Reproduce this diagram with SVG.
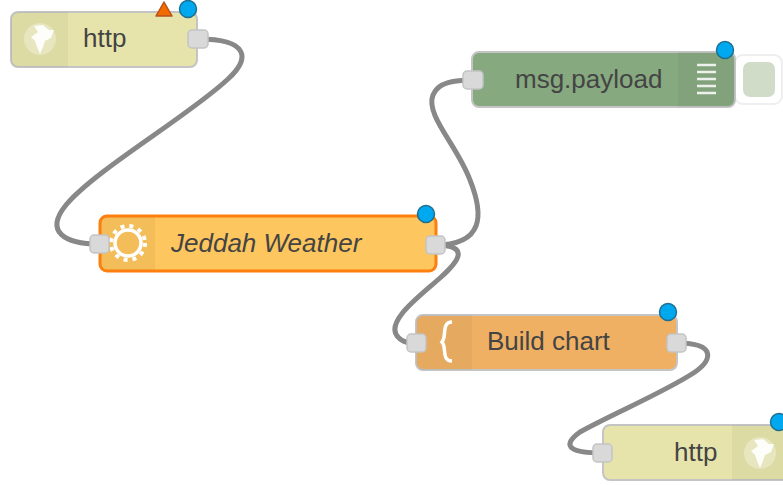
<svg xmlns="http://www.w3.org/2000/svg" width="783" height="485" viewBox="0 0 783 485">
<defs>
<style>
.wire{fill:none;stroke:#888;stroke-width:5}
.body{stroke:#c4c4c4;stroke-width:2}
.port{fill:#d9d9d9;stroke:#c4c4c4;stroke-width:1.5}
.badge{fill:#00a8f0;stroke:#1f6f8f;stroke-width:1.5}
.icon{fill:#000;fill-opacity:.04}
.lbl{font-family:"Liberation Sans",Arial,sans-serif;font-size:26px;fill:#444}
</style>
<g id="globe"><circle cx="0" cy="0" r="16" fill="#fff" fill-opacity=".3"/><path d="M-9 -2 L-2 -7 L-6 -13 L3 -14 L9 -9 L14 -9 L11 -1 L5 2 L3 8 L0 15 L-3 8 L-5 2 Z M6 -5 L9 -5 L8 -2 Z" fill="#fff" fill-opacity=".9"/></g>
</defs>
<g id="connectors">
<path class="wire" d="M198 39 C250 39 250 59 228 79 C190 115 95 170 66 205 C44 232 65 244 99 244"/>
<path class="wire" d="M435 245 C484 245 484 215 470 180 C457 145 425 115 433 95 C438 82 455 80 473 80"/>
<path class="wire" d="M435 245 C472 245 458 262 440 278 C420 296 384 322 398 337 C403 343 410 343 416 343"/>
<path class="wire" d="M677 343 C717 343 712 360 695 372 C665 392 610 415 580 432 C558 448 575 453 602 453"/>
</g>
<g id="node-http-in">
<rect class="body" x="11" y="12" width="186" height="55" rx="7" fill="#e6e4ab"/>
<path class="icon" d="M18 12H68V67H18a7 7 0 0 1-7-7V19a7 7 0 0 1 7-7Z"/>
<use href="#globe" x="40" y="39"/>
<text class="lbl" x="83" y="47">http</text>
<rect class="port" x="188" y="30" width="20" height="18" rx="4"/>
<path d="M156 16 L164 2 L172 16 Z" fill="#f26a00" stroke="#b5531a" stroke-width="1.5" stroke-linejoin="round"/>
<circle class="badge" cx="188" cy="9" r="8.5"/>
</g>
<g id="node-debug">
<rect x="735" y="55" width="47" height="49" rx="8" fill="#fff" stroke="#eee" stroke-width="2"/>
<rect x="743" y="62" width="32" height="35" rx="7" fill="#d0dcc8"/>
<rect class="body" x="472" y="52" width="263" height="55" rx="7" fill="#87a980"/>
<path class="icon" d="M678 52H728a7 7 0 0 1 7 7V100a7 7 0 0 1-7 7H678Z"/>
<path d="M697 65H716M697 72H716M697 79H716M697 86H716M697 93H716" stroke="#fff" stroke-width="2.5" stroke-opacity=".85"/>
<text class="lbl" x="515" y="88">msg.payload</text>
<rect class="port" x="463" y="71" width="20" height="18" rx="4"/>
<circle class="badge" cx="725" cy="50" r="8.5"/>
</g>
<g id="node-jeddah">
<rect x="100" y="216" width="336" height="55" rx="7" fill="#fdc65e" stroke="#ff7f0e" stroke-width="3"/>
<path class="icon" d="M107 217H155V270H107a6 6 0 0 1-6-6V223a6 6 0 0 1 6-6Z"/>
<circle cx="128" cy="243" r="13" fill="none" stroke="#fff" stroke-width="3.5"/>
<circle cx="128" cy="243" r="17" fill="none" stroke="#fff" stroke-width="4" stroke-dasharray="4 5"/>
<text class="lbl" x="171" y="252" font-style="italic">Jeddah Weather</text>
<rect class="port" x="90" y="235" width="19" height="18" rx="4"/>
<rect class="port" x="426" y="236" width="19" height="18" rx="4"/>
<circle class="badge" cx="426" cy="214" r="8.5"/>
</g>
<g id="node-build-chart">
<rect class="body" x="416" y="315" width="261" height="55" rx="7" fill="#efb063"/>
<path class="icon" d="M423 315H472V370H423a7 7 0 0 1-7-7V322a7 7 0 0 1 7-7Z"/>
<path d="M452 322C441 322 447 337 442 342C447 347 441 361 452 361" fill="none" stroke="#fff" stroke-width="3.5"/>
<text class="lbl" x="487" y="350">Build chart</text>
<rect class="port" x="407" y="334" width="19" height="18" rx="4"/>
<rect class="port" x="667" y="334" width="19" height="18" rx="4"/>
<circle class="badge" cx="668" cy="312" r="8.5"/>
</g>
<g id="node-http-out">
<rect class="body" x="603" y="425" width="190" height="55" rx="7" fill="#e6e4ab"/>
<path class="icon" d="M732 425H793V480H732Z"/>
<use href="#globe" x="760" y="453"/>
<text class="lbl" x="674" y="461">http</text>
<rect class="port" x="593" y="444" width="19" height="18" rx="4"/>
<circle class="badge" cx="779" cy="422" r="8.5"/>
</g>
</svg>
